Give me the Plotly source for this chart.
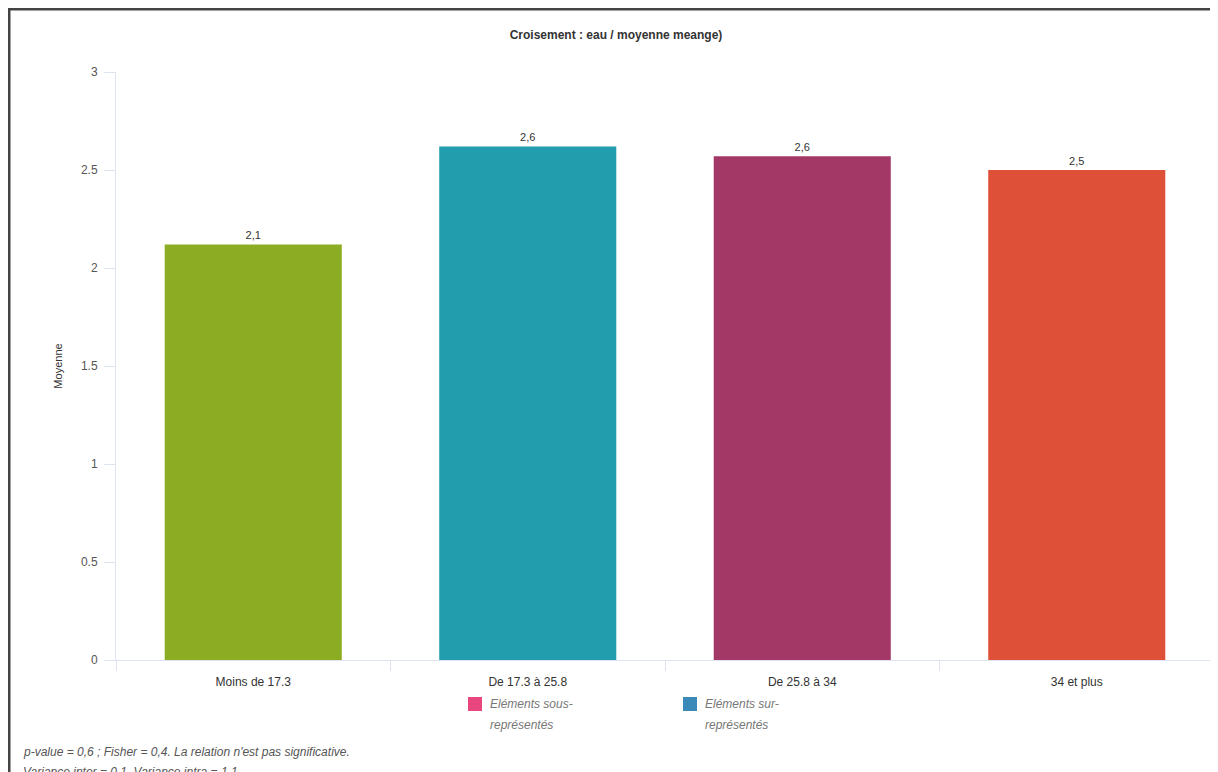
import plotly.graph_objects as go

categories = ["Moins de 17.3", "De 17.3 à 25.8", "De 25.8 à 34", "34 et plus"]
moyennes = [2.12, 2.62, 2.57, 2.50]
value_labels = ["2,1", "2,6", "2,6", "2,5"]
bar_colors = ["#8BAC23", "#229DAD", "#A33867", "#DE5138"]
y_ticks = [0, 0.5, 1, 1.5, 2, 2.5, 3]
legend_items = [("Eléments sous-", "représentés", "#E8467F"), ("Eléments sur-", "représentés", "#3A89B8")]
footer_lines = ["p-value = 0,6 ; Fisher = 0,4. La relation n'est pas significative.",
                "Variance inter = 0,1. Variance intra = 1,1."]

W, H = 1218, 772
OFF = 8  # page body margin
# target plot box in screen pixels: x 116..1214, y 72..660
L, T = 116 - OFF, 72 - OFF
R = W - (1214 - OFF)
B = H - (660 - OFF)
PW, PH = W - L - R, H - T - B

def px(x):
    return (x - OFF - L) / PW

def py(y):
    return (H - B - (y - OFF)) / PH

FONT = "Arial, Liberation Sans, sans-serif"
AX = "#DDE3F0"

fig = go.Figure()
fig.add_trace(go.Bar(
    x=categories, y=moyennes, marker=dict(color=bar_colors, line=dict(width=0)),
    text=value_labels, textposition="outside", cliponaxis=False,
    textfont=dict(family=FONT, size=11, color="#333333"), showlegend=False,
    hoverinfo="x+y",
))

annotations = []
shapes = []
legend_x = [468, 683]
for (l1, l2, col), sx in zip(legend_items, legend_x):
    shapes.append(dict(type="rect", xref="paper", yref="paper",
                       x0=px(sx), x1=px(sx + 14), y0=py(711), y1=py(697),
                       fillcolor=col, line=dict(width=0)))
    for txt, yy in ((l1, 704), (l2, 725)):
        annotations.append(dict(text=txt, xref="paper", yref="paper", x=px(sx + 20), y=py(yy),
                                xanchor="left", yanchor="middle", showarrow=False,
                                font=dict(family=FONT, size=12, color="#777777", style="italic")))
for txt, yy in zip(footer_lines, [752, 772]):
    annotations.append(dict(text=txt, xref="paper", yref="paper", x=px(21), y=py(yy),
                            xanchor="left", yanchor="middle", showarrow=False,
                            font=dict(family=FONT, size=12, color="#555555", style="italic")))

# frame border (left and top)
shapes.append(dict(type="line", xref="paper", yref="paper", x0=px(9), x1=px(9), y0=py(H + 20), y1=py(8),
                   line=dict(color="#444444", width=3)))
shapes.append(dict(type="line", xref="paper", yref="paper", x0=px(8), x1=px(W + 20), y0=py(9), y1=py(9),
                   line=dict(color="#444444", width=3)))

fig.update_layout(
    width=W, height=H,
    margin=dict(l=L, r=R, t=T, b=B, autoexpand=False),
    paper_bgcolor="white", plot_bgcolor="white",
    title=dict(text="<b>Croisement : eau / moyenne meange)</b>", x=(616 - OFF) / W, xanchor="center",
               y=1 - (35 - OFF) / H, yanchor="middle", xref="container", yref="container",
               font=dict(family=FONT, size=12, color="#333333")),
    bargap=0.355,
    font=dict(family=FONT, size=12, color="#555555"),
    xaxis=dict(type="category", showline=True, linecolor=AX, linewidth=1, showgrid=False,
               ticks="outside", tickson="boundaries", ticklen=10, tickcolor=AX,
               ticklabelstandoff=11,
               tickfont=dict(family=FONT, size=12, color="#333333"), fixedrange=True),
    yaxis=dict(range=[0, 3], tickvals=y_ticks, ticktext=["0", "0.5", "1", "1.5", "2", "2.5", "3"],
               showline=True, linecolor=AX, linewidth=1, showgrid=False, zeroline=False,
               ticks="outside", ticklen=11, tickcolor=AX, ticklabelstandoff=4,
               tickfont=dict(family=FONT, size=12, color="#555555"),
               title=dict(text="Moyenne", standoff=16, font=dict(family=FONT, size=11, color="#333333"))),
    shapes=shapes, annotations=annotations,
)

fig.write_html("out.html")
